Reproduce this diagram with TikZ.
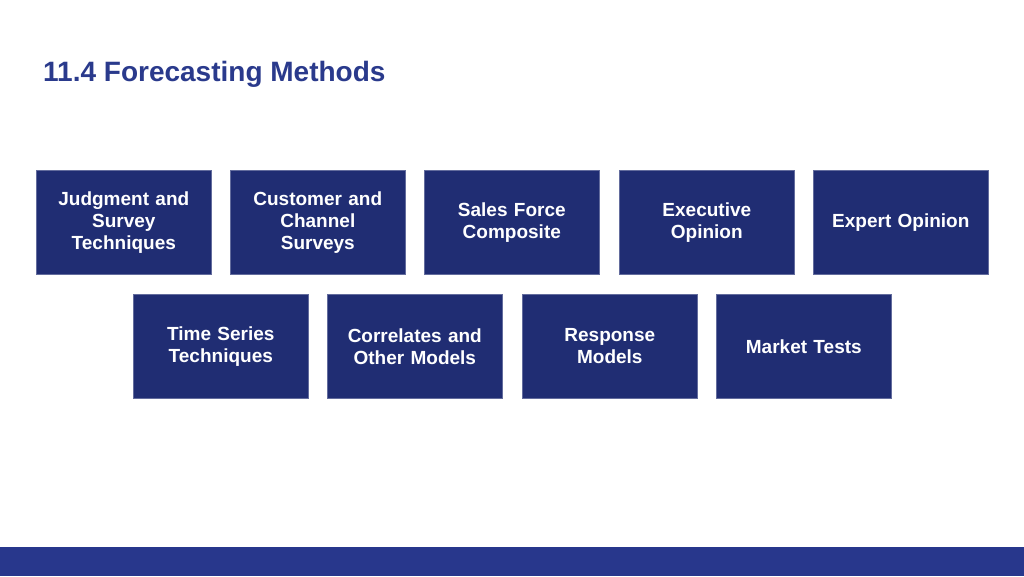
\documentclass[tikz,border=0pt]{standalone}
\usepackage{fontspec}
\setmainfont{Liberation Sans}
\definecolor{boxblue}{RGB}{32,45,115}
\definecolor{titleblue}{RGB}{42,58,140}
\definecolor{barblue}{RGB}{40,55,140}
\begin{document}
\begin{tikzpicture}[x=1pt,y=-1pt,
  mbox/.style={fill=boxblue,draw=boxblue!70!white,line width=0.6pt,minimum width=175pt,minimum height=104pt,text width=170pt,align=center,text=white,font=\fontsize{19}{22}\selectfont\bfseries,anchor=north west,inner sep=0pt}]
\useasboundingbox (0,0) rectangle (1024,576);
\fill[barblue] (0,547) rectangle (1024,576);
\node[anchor=west,text=titleblue,font=\fontsize{28}{32}\selectfont\bfseries,inner sep=0pt] (title) at (43,74) {11.4 Forecasting Methods};
\node[mbox] (a1) at (36,170) {Judgment and\\Survey\\Techniques};
\node[mbox] (a2) at (230,170) {Customer and\\Channel\\Surveys};
\node[mbox] (a3) at (424,170) {Sales Force\\Composite};
\node[mbox] (a4) at (619,170) {Executive\\Opinion};
\node[mbox] (a5) at (813,170) {Expert Opinion};
\node[mbox] (b1) at (133,294) {Time Series\\Techniques};
\node[mbox] (b2) at (327,294) {Correlates and\\Other Models};
\node[mbox] (b3) at (522,294) {Response\\Models};
\node[mbox] (b4) at (716,294) {Market Tests};
\end{tikzpicture}
\end{document}
